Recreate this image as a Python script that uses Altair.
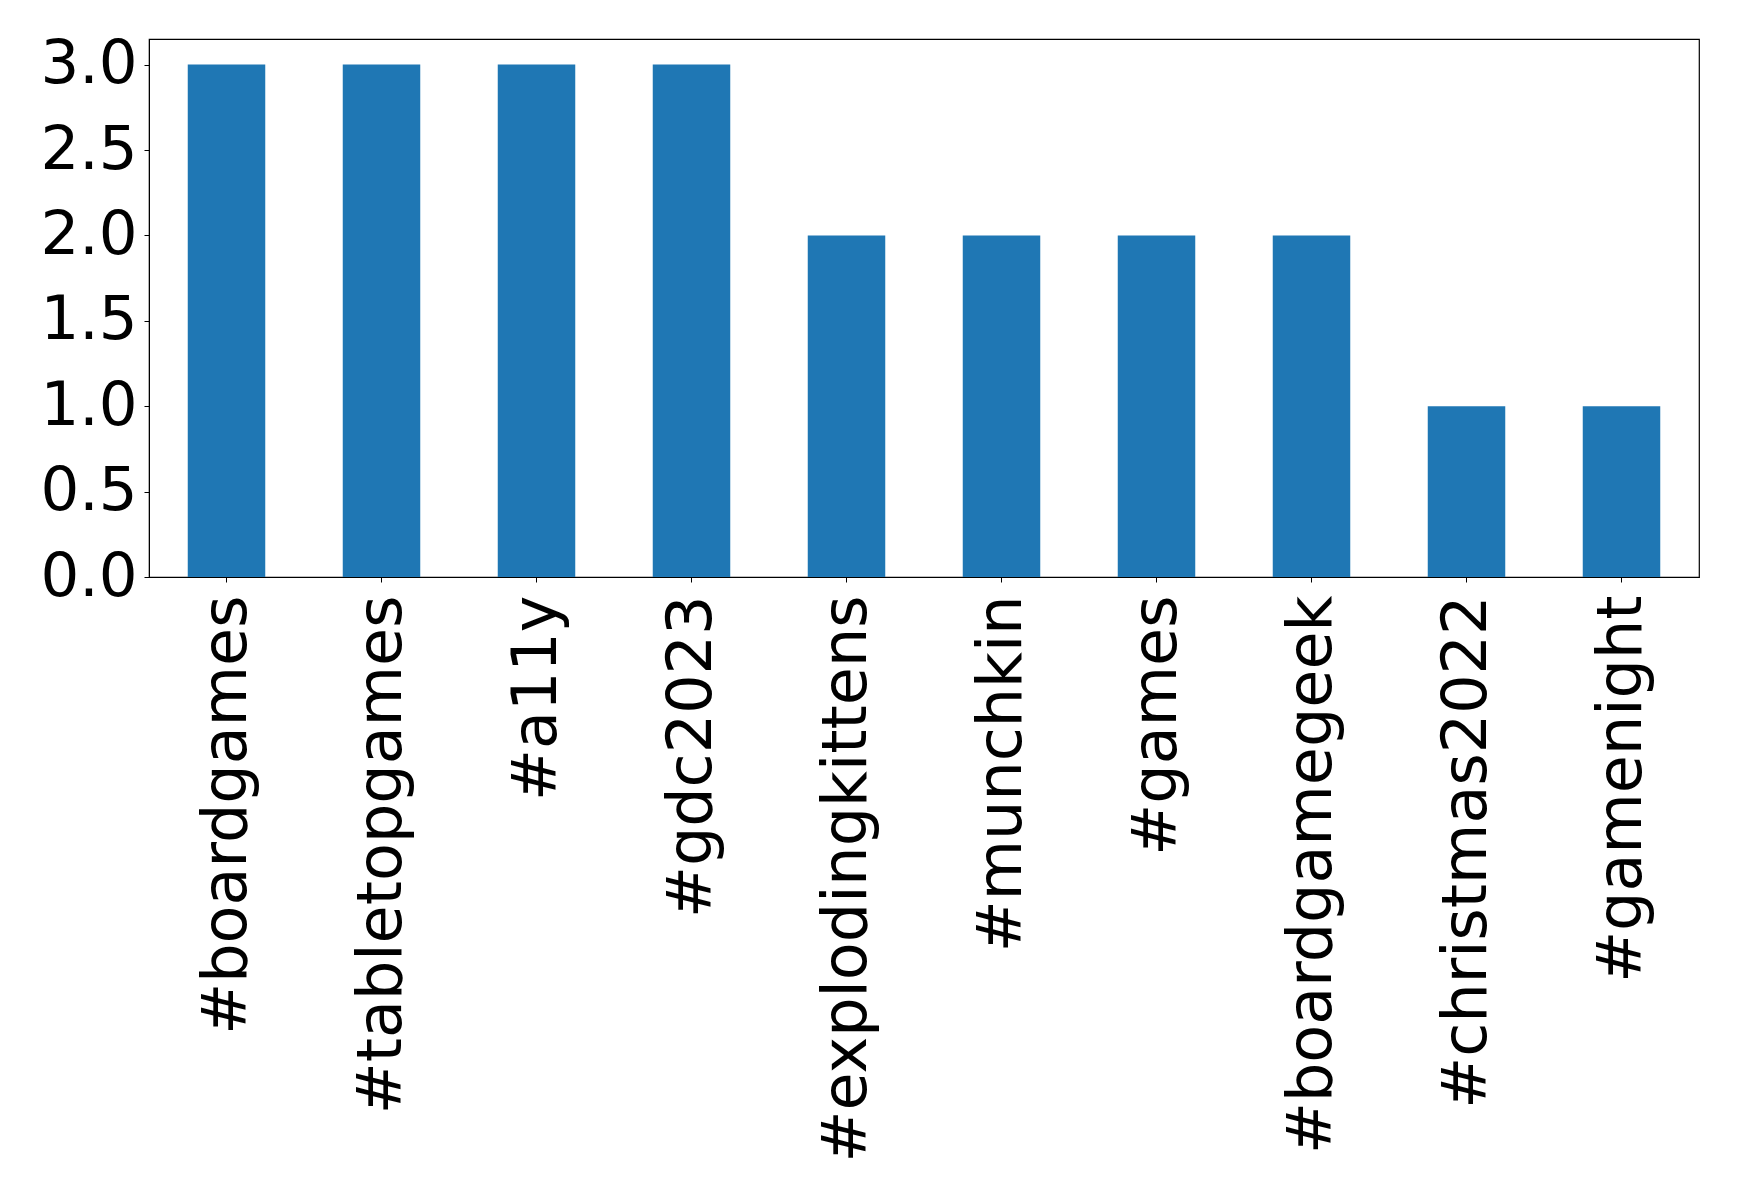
import altair as alt
import pandas as pd

hashtags = ["#boardgames", "#tabletopgames", "#a11y", "#gdc2023", "#explodingkittens",
            "#munchkin", "#games", "#boardgamegeek", "#christmas2022", "#gamenight"]
counts = [3, 3, 3, 3, 2, 2, 2, 2, 1, 1]

df = pd.DataFrame({"tag": hashtags, "count": counts})

chart = alt.Chart(df).mark_bar(color="#1f77b4").encode(
    x=alt.X("tag:N", sort=hashtags, title=None,
            scale=alt.Scale(paddingInner=0.5, paddingOuter=0.25),
            axis=alt.Axis(labelAngle=270, labelAlign="right", labelBaseline="middle",
                          labelFontSize=62, labelFont="DejaVu Sans", labelColor="black",
                          labelPadding=13, tickSize=5, tickColor="black", domainColor="black",
                          labelLimit=0)),
    y=alt.Y("count:Q", title=None,
            scale=alt.Scale(domain=[0, 3.15], nice=False),
            axis=alt.Axis(values=[0, 0.5, 1.0, 1.5, 2.0, 2.5, 3.0], format=".1f",
                          labelFontSize=61, labelFont="DejaVu Sans", labelColor="black",
                          labelPadding=7, tickSize=5, tickColor="black", domainColor="black",
                          grid=False, labelFlush=False)),
).properties(
    width=1550, height=538,
    autosize=alt.AutoSizeParams(type="none"),
    padding={"left": 141, "top": 31, "right": 30, "bottom": 600},
).configure(background="white").configure_view(stroke="black", strokeWidth=1.2)

chart.save("out.html", embed_options={"renderer": "svg", "actions": False})
